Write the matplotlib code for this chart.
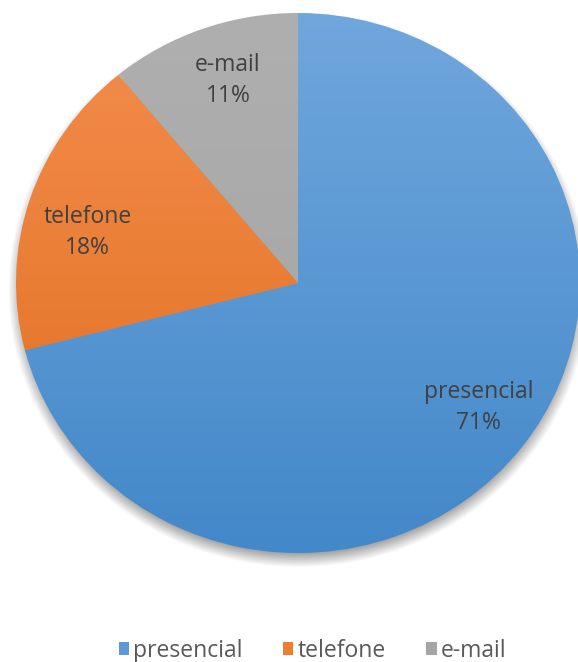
import numpy as np
import matplotlib
matplotlib.use("Agg")
import matplotlib.pyplot as plt
from matplotlib.patches import Wedge, Patch
from matplotlib.colors import to_rgb

categories = ["presencial", "telefone", "e-mail"]
values = [71, 18, 11]
top_colors = ["#70A7DD", "#F38D4E", "#AFAFAF"]
bottom_colors = ["#4388C9", "#E06E1C", "#A3A3A3"]
legend_colors = ["#5B9BD5", "#ED7D31", "#A5A5A5"]

# label placement style (radius fraction, angular offset in degrees)
label_r = [0.79, 0.77, 0.79]
label_dang = [2.0, 4.0, -1.5]

W, H = 578, 662
fig = plt.figure(figsize=(W / 100, H / 100), dpi=100)
cx, cy, rx, ry = 298, 283, 282, 270
m = 1.1
ax = fig.add_axes([(cx - m * rx) / W, (H - cy - m * ry) / H, 2 * m * rx / W, 2 * m * ry / H])
ax.axis("off")

# shadow
n = 600
xs = np.linspace(-m, m, n)
ys = np.linspace(-m, m, n)
X, Y = np.meshgrid(xs, ys)
R = np.sqrt(X ** 2 + (Y + 0.025) ** 2)
alpha = 0.55 * np.clip((1.03 - R) / 0.06, 0, 1)
shadow = np.zeros((n, n, 4))
shadow[..., :3] = 0.25
shadow[..., 3] = alpha
ax.imshow(shadow, extent=[-m, m, -m, m], origin="lower", zorder=1,
          interpolation="bilinear", aspect="auto")

total = sum(values)
start = 90.0
grad_y = np.linspace(0, 1, 256)[:, None]
for i, (cat, v, tc, bc) in enumerate(zip(categories, values, top_colors, bottom_colors)):
    span = 360.0 * v / total
    theta1, theta2 = start - span, start
    w = Wedge((0, 0), 1.0, theta1, theta2, facecolor="none", edgecolor="none", zorder=2)
    ax.add_patch(w)
    t = np.array(to_rgb(tc))
    b = np.array(to_rgb(bc))
    img = (b[None, None, :] * (1 - grad_y[..., None]) + t[None, None, :] * grad_y[..., None])
    img = np.repeat(img, 2, axis=1)
    im = ax.imshow(img, extent=[-1, 1, -1, 1], origin="lower", zorder=2,
                   interpolation="bilinear", aspect="auto")
    im.set_clip_path(w)
    mid = np.deg2rad((theta1 + theta2) / 2 + label_dang[i])
    r = label_r[i]
    ax.text(r * np.cos(mid), r * np.sin(mid), f"{cat}\n{v}%", ha="center", va="center",
            fontsize=16.5, color="#404040", family="Open Sans", linespacing=1.4, zorder=3)
    start = theta1

ax.set_xlim(-m, m)
ax.set_ylim(-m, m)

handles = [Patch(facecolor=c, edgecolor="none") for c in legend_colors]
leg = fig.legend(handles, categories, loc="center", bbox_to_anchor=(0.541, 0.017), ncol=3,
                 frameon=False, handlelength=0.45, handleheight=0.45, handletextpad=0.2,
                 columnspacing=1.75, prop={"family": "Open Sans", "size": 16.5})
for t in leg.get_texts():
    t.set_color("#595959")

fig.savefig("out.png", dpi=100)
